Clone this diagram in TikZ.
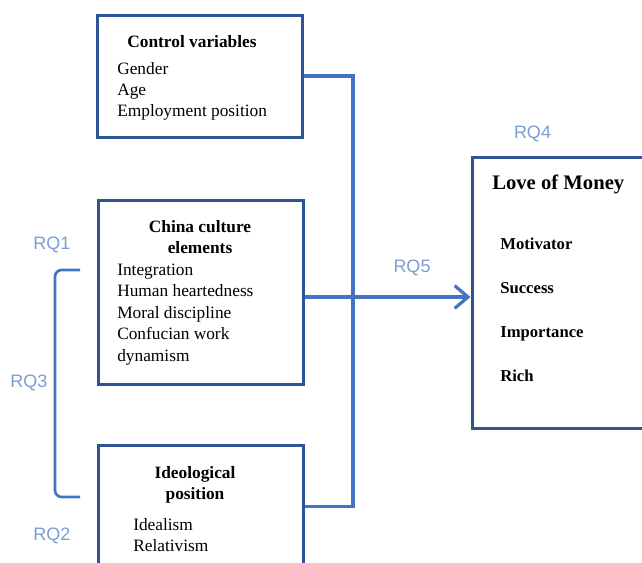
\documentclass[tikz,border=0pt]{standalone}
\usepackage{fontspec}
\setmainfont{Liberation Serif}
\newfontfamily\rqfont{Liberation Sans}
\usetikzlibrary{arrows.meta}
\definecolor{boxblue}{HTML}{2F5496}
\definecolor{linkblue}{HTML}{4472C4}
\definecolor{rqblue}{HTML}{7C9DD2}
\tikzset{
  box/.style={draw=boxblue, line width=2.25pt, inner sep=0pt, fill=white},
  item/.style={anchor=west, inner sep=0pt, font=\fontsize{13}{16}\selectfont, text height=0.7em, text depth=0.25em},
  head/.style={inner sep=0pt, font=\fontsize{13}{16}\selectfont\bfseries, text height=0.7em, text depth=0.25em},
  litem/.style={anchor=west, inner sep=0pt, font=\fontsize{12.5}{15}\selectfont\bfseries, text height=0.7em, text depth=0.25em},
  rq/.style={inner sep=0pt, text=rqblue, font=\rqfont\fontsize{13.5}{15}\selectfont},
  link/.style={draw=linkblue, line width=2.4pt, line join=miter},
}
\begin{document}
\begin{tikzpicture}[x=0.75pt,y=-0.75pt]
\useasboundingbox (0,0) rectangle (642,562);
\clip (0,0) rectangle (642,562);
\fill[white] (0,0) rectangle (642,562);
% boxes
\node[box, minimum width=153.75pt, minimum height=91.5pt] (ctrl) at (199.5,76) {};
\node[box, minimum width=153.75pt, minimum height=138pt] (china) at (200.5,292) {};
\node[box, minimum width=153.75pt, minimum height=92.25pt] (ideo) at (200.5,506.5) {};
\node[box, minimum width=144.75pt, minimum height=203.25pt] (love) at (568.5,292.5) {};
% control variables text
\node[head] (cvh) at (192,44) {Control variables};
\node[item] (cv1) at (117,71) {Gender};
\node[item] (cv2) at (117,92) {Age};
\node[item] (cv3) at (117,113) {Employment position};
% china culture text
\node[head] (cch1) at (200,229) {China culture};
\node[head] (cch2) at (200,250) {elements};
\node[item] (cc1) at (117,272) {Integration};
\node[item] (cc2) at (117,293) {Human heartedness};
\node[item] (cc3) at (117,315) {Moral discipline};
\node[item] (cc4) at (117,336) {Confucian work};
\node[item] (cc5) at (117,358) {dynamism};
% ideological position text
\node[head] (iph1) at (195,475) {Ideological};
\node[head] (iph2) at (195,496) {position};
\node[item] (ip1) at (133,527) {Idealism};
\node[item] (ip2) at (133,548) {Relativism};
% love of money text
\node[anchor=west, inner sep=0pt, font=\fontsize{15.5}{18}\selectfont\bfseries, text height=0.7em, text depth=0.25em] (lmh) at (492,186) {Love of Money};
\node[litem] (lm1) at (500,246) {Motivator};
\node[litem] (lm2) at (500,290) {Success};
\node[litem] (lm3) at (500,334) {Importance};
\node[litem] (lm4) at (500,378) {Rich};
% connectors
\coordinate (jx) at (353,0);
\draw[link] (ctrl.east) -- (ctrl.east -| jx) -- (ideo.east -| jx) -- (ideo.east);
\draw[link, -{Straight Barb[length=10pt, width=17pt, line width=2.4pt]}] ([yshift=-3.75pt]china.east) -- ([yshift=-3.75pt]china.east -| love.west);
% bracket
\coordinate (b1) at (80,270);
\coordinate (b2) at (80,497);
\draw[draw=linkblue, line width=2pt, rounded corners=5pt] (b1) -- ++(-25,0) -- ++(0,227) -- (b2);
% RQ labels
\node[rq] (rq1) at (52,245) {RQ1};
\node[rq] (rq3) at (29,383) {RQ3};
\node[rq] (rq2) at (52,536) {RQ2};
\node[rq] (rq5) at (412,268) {RQ5};
\node[rq] (rq4) at (532.5,134) {RQ4};
\end{tikzpicture}
\end{document}
